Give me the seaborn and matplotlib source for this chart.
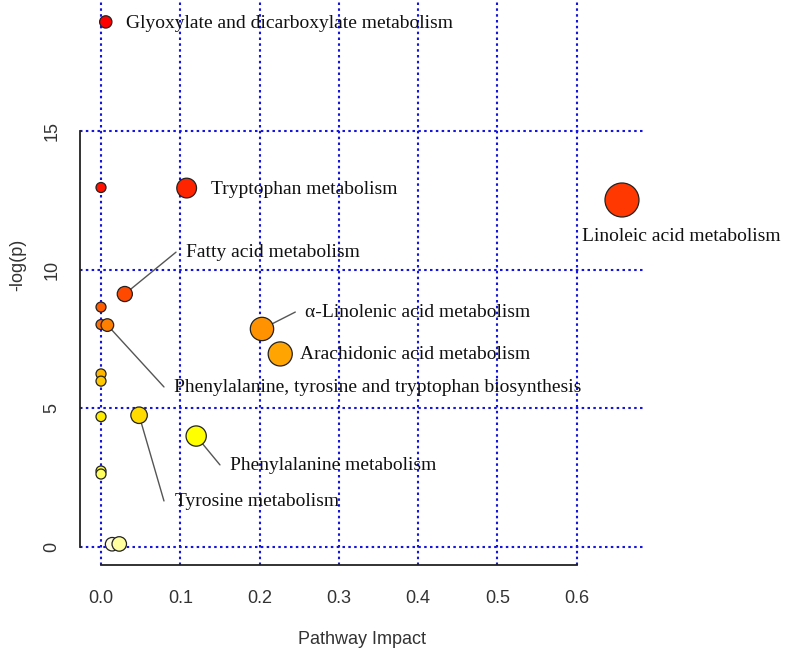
import colorsys
import numpy as np
import pandas as pd
import matplotlib
matplotlib.use("Agg")
import matplotlib.pyplot as plt
import seaborn as sns

# ---- data ----
pathway = ["Glyoxylate and dicarboxylate metabolism", "p02", "Tryptophan metabolism",
           "Linoleic acid metabolism", "Fatty acid metabolism", "p06", "p07",
           "Phenylalanine, tyrosine and tryptophan biosynthesis",
           "\u03b1-Linolenic acid metabolism", "Arachidonic acid metabolism",
           "p11", "p12", "p13", "Tyrosine metabolism", "Phenylalanine metabolism",
           "p16", "p17", "p18", "p19"]
impact = [0.006, 0.0, 0.108, 0.657, 0.030, 0.0, 0.0, 0.008, 0.203, 0.226,
          0.0, 0.0, 0.0, 0.048, 0.120, 0.0, 0.0, 0.014, 0.023]
neglogp = [18.93, 12.96, 12.94, 12.51, 9.12, 8.65, 8.02, 8.00, 7.86, 6.96,
           6.24, 5.98, 4.70, 4.75, 4.00, 2.74, 2.63, 0.10, 0.11]
xticks = [0.0, 0.1, 0.2, 0.3, 0.4, 0.5, 0.6]
xticklabels = ["0.0", "0.1", "0.2", "0.3", "0.4", "0.5", "0.6"]
yticks = [0, 5, 10, 15]
yticklabels = ["0", "5", "10", "15"]

# label layout: text start (x, y) and leader-line end (or None)
label_layout = {
    "Glyoxylate and dicarboxylate metabolism": (0.0315, 18.88, None),
    "Tryptophan metabolism": (0.139, 12.88, None),
    "Linoleic acid metabolism": (0.607, 11.18, None),
    "Fatty acid metabolism": (0.107, 10.60, (0.0946, 10.63)),
    "\u03b1-Linolenic acid metabolism": (0.257, 8.44, (0.245, 8.47)),
    "Arachidonic acid metabolism": (0.251, 6.93, None),
    "Phenylalanine, tyrosine and tryptophan biosynthesis": (0.092, 5.74, (0.0794, 5.77)),
    "Phenylalanine metabolism": (0.163, 2.93, (0.150, 2.96)),
    "Tyrosine metabolism": (0.0933, 1.63, (0.0794, 1.66)),
}

df = pd.DataFrame({"pathway": pathway, "impact": impact, "neglogp": neglogp})

# R heat.colors(n) assigned by decreasing -log(p)
def heat_colors(n):
    j = n // 4
    i = n - j
    cols = [colorsys.hsv_to_rgb(h, 1, 1) for h in np.linspace(0, 1 / 6, i)]
    if j > 0:
        cols += [colorsys.hsv_to_rgb(1 / 6, s, 1)
                 for s in np.linspace(1 - 1 / (2 * j), 1 / (2 * j), j)]
    return cols

order = np.argsort(-df["neglogp"].values, kind="stable")
hc = heat_colors(len(df))
palette = {}
for rank, idx in enumerate(order):
    palette[df["pathway"].iloc[idx]] = hc[rank]

# circle size grows with sqrt(impact)
xmax = df["impact"].max()
sizes = {}
for p, v in zip(df["pathway"], df["impact"]):
    r_px = 5 + 12 * np.sqrt(v / xmax)
    sizes[p] = (2 * r_px * 0.72) ** 2

# ---- figure ----
sns.set_style("white")
fig = plt.figure(figsize=(7.87, 6.52), dpi=100)
ax = fig.add_axes([80 / 787, 87 / 652, 563 / 787, 565 / 652])

ax.set_xlim(-0.0265, 0.6835)
ax.set_ylim(-0.649, 19.72)

# grid
for xv in xticks:
    ax.axvline(xv, color="#1515dd", linestyle=(0, (1.2, 1.6)), lw=1.5, zorder=1)
for yv in yticks:
    ax.axhline(yv, color="#1515dd", linestyle=(0, (1.2, 1.6)), lw=1.5, zorder=1)

# leader lines
pos = dict(zip(df["pathway"], zip(df["impact"], df["neglogp"])))
for name, (tx, ty, lend) in label_layout.items():
    if lend is not None:
        px, py = pos[name]
        ax.plot([px, lend[0]], [py, lend[1]], color="#555555", lw=1.0, zorder=2)

sns.scatterplot(data=df, x="impact", y="neglogp", hue="pathway", palette=palette,
                size="pathway", sizes=sizes, edgecolor="#222222", linewidth=0.9,
                legend=False, ax=ax, zorder=3, clip_on=False)

for name, (tx, ty, lend) in label_layout.items():
    ax.text(tx, ty, name, ha="left", va="center", fontsize=14,
            family="Liberation Serif", color="#111111", zorder=4)

# axes R style
for s in ["top", "right"]:
    ax.spines[s].set_visible(False)
ax.spines["left"].set_bounds(0, 15)
ax.spines["bottom"].set_bounds(0, 0.6)
for s in ["left", "bottom"]:
    ax.spines[s].set_linewidth(1.3)
    ax.spines[s].set_color("#222222")

ax.set_xticks(xticks)
ax.set_xticklabels(xticklabels, family="Liberation Sans", fontsize=13, color="#333333")
ax.set_yticks(yticks)
ax.set_yticklabels(yticklabels, family="Liberation Sans", fontsize=13, color="#333333",
                   rotation=90, va="center")
ax.tick_params(axis="both", direction="out", length=7, width=1.3, color="#222222")
ax.tick_params(axis="x", pad=11)
ax.tick_params(axis="y", pad=7)

ax.set_xlabel("Pathway Impact", family="Liberation Sans", fontsize=13, color="#333333")
ax.set_ylabel("-log(p)", family="Liberation Sans", fontsize=13, color="#333333")
ax.xaxis.set_label_coords(0.5, -(639 - 565) / 565)
ax.yaxis.set_label_coords(-(80 - 18) / 563, (565 - 265) / 565)
ax.xaxis.label.set_va("center")
ax.yaxis.label.set_va("center")

fig.savefig("out.png", dpi=100)
